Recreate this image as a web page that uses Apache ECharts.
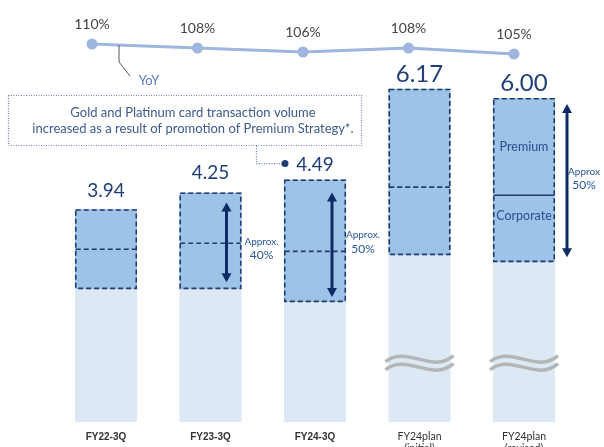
<!DOCTYPE html>
<html>
<head>
<meta charset="utf-8">
<script src="https://cdn.jsdelivr.net/npm/echarts@6/dist/echarts.min.js"></script>
<style>html,body{margin:0;padding:0;background:#fff;}#c{width:604px;height:447px;}</style>
</head>
<body>
<div id="c"></div>
<script>
const categories = ['FY22-3Q', 'FY23-3Q', 'FY24-3Q', 'FY24plan\n(initial)', 'FY24plan\n(revised)'];
const baseVals = [2.46, 2.46, 2.22, 3.09, 2.96];
const corporateVals = [0.74, 0.85, 0.94, 1.26, 1.24];
const premiumVals = [0.74, 0.94, 1.33, 1.82, 1.80];
const totals = [3.94, 4.25, 4.49, 6.17, 6.00];
const yoyVals = [110, 108, 106, 108, 105];
const calloutLines = ['Gold and Platinum card transaction volume', 'increased as a result of promotion of Premium Strategy*.'];
const approxNotes = [
  {idx: 1, top: 'Approx.', pct: '40%'},
  {idx: 2, top: 'Approx.', pct: '50%'},
  {idx: 4, top: 'Approx', pct: '50%'}
];

const FONT = 'Lato, "Noto Sans", sans-serif';
const NAVY = '#1f3f78';
const DARK = '#0d2b66';
const BORDER = '#1f3a6e';
const BAR_W = 62;
const chart = echarts.init(document.getElementById('c'), null, {renderer: 'canvas'});

const topLabelStyle = [
  {fontSize: 19, distance: 9},
  {fontSize: 19, distance: 10},
  {fontSize: 19, distance: 5},
  {fontSize: 24, distance: 3},
  {fontSize: 24, distance: 3}
];

chart.setOption({
  animation: false,
  backgroundColor: '#fff',
  grid: [
    {left: 53.75, width: 522.5, top: 44, bottom: 25, containLabel: false, outerBoundsMode: 'none'},
    {left: 39.25, width: 527.5, top: 34, height: 30, containLabel: false, outerBoundsMode: 'none'}
  ],
  xAxis: [
    {
      type: 'category', gridIndex: 0, data: categories,
      axisLine: {show: false}, axisTick: {show: false},
      axisLabel: {
        margin: 9, interval: 0,
        formatter: function (v, i) {
          if (i < 3) return '{b|' + v + '}';
          return v.split('\n').map(s => '{n|' + s + '}').join('\n');
        },
        rich: {
          b: {fontFamily: '"Liberation Sans", Arial, sans-serif', fontWeight: 'bold', fontSize: 10, color: '#333', lineHeight: 12},
          n: {fontFamily: FONT, fontSize: 10.5, color: '#333', lineHeight: 12}
        }
      }
    },
    {type: 'category', gridIndex: 1, data: categories, show: false}
  ],
  yAxis: [
    {type: 'value', gridIndex: 0, min: 0, max: 7, show: false, splitLine: {show: false}},
    {type: 'value', gridIndex: 1, min: 100, max: 115, show: false, splitLine: {show: false}}
  ],
  series: [
    {
      name: 'Base', type: 'bar', stack: 's', barWidth: BAR_W,
      data: baseVals, itemStyle: {color: '#dde8f5'}, silent: true
    },
    {
      name: 'Corporate', type: 'bar', stack: 's', barWidth: BAR_W,
      data: corporateVals.map((v, i) => ({
        value: v,
        label: {show: i === 4, position: 'inside', offset: [0, -13], formatter: 'Corporate', color: '#27508f', fontSize: 12.5, fontFamily: FONT}
      })),
      itemStyle: {color: '#9dc3e6'}, silent: true
    },
    {
      name: 'Premium', type: 'bar', stack: 's', barWidth: BAR_W,
      data: premiumVals.map((v, i) => ({
        value: v,
        label: {
          show: true, position: 'top', distance: topLabelStyle[i].distance,
          formatter: totals[i].toFixed(2), color: NAVY,
          fontSize: topLabelStyle[i].fontSize, fontFamily: FONT
        }
      })),
      itemStyle: {color: '#9dc3e6'}, silent: true
    },
    {
      name: 'YoY', type: 'line', xAxisIndex: 1, yAxisIndex: 1,
      data: yoyVals, symbol: 'circle', symbolSize: 11,
      lineStyle: {color: '#9fb6de', width: 3},
      itemStyle: {color: '#9fb6de'},
      label: {show: true, position: 'top', distance: 7, color: '#444', fontSize: 14, fontFamily: FONT, formatter: p => p.value + '%'}
    }
  ]
});

function px(i, v) { return chart.convertToPixel({xAxisIndex: 0, yAxisIndex: 0}, [i, v]); }

const g = [];
// dashed outlines of the premium+corporate box and divider
categories.forEach((c, i) => {
  const pt = px(i, totals[i]);
  const pb = px(i, baseVals[i]);
  const pm = px(i, baseVals[i] + corporateVals[i]);
  const x0 = pt[0] - BAR_W / 2 + 0.75;
  g.push({type: 'rect', shape: {x: x0, y: pt[1] + 0.75, width: BAR_W - 1.5, height: pb[1] - pt[1] - 1.5},
    style: {fill: null, stroke: BORDER, lineWidth: 1.6, lineDash: [5, 3]}});
  g.push({type: 'line', shape: {x1: x0, y1: pm[1], x2: x0 + BAR_W - 1.5, y2: pm[1]},
    style: {stroke: BORDER, lineWidth: 1.6, lineDash: i === 4 ? null : [5, 3]}});
});

// Premium text inside revised bar
(function () {
  const i = 4;
  const lo = baseVals[i] + corporateVals[i];
  const p = px(i, lo + premiumVals[i] * 0.5);
  g.push({type: 'text', x: p[0], y: p[1], style: {text: 'Premium', fill: '#27508f', font: '12.5px ' + FONT, align: 'center', verticalAlign: 'middle'}});
})();

// arrows
function arrow(x, yTop, yBot) {
  const h = 8, w = 5;
  g.push({type: 'line', shape: {x1: x, y1: yTop + h - 1, x2: x, y2: yBot - h + 1}, style: {stroke: DARK, lineWidth: 3}});
  g.push({type: 'polygon', shape: {points: [[x, yTop], [x - w, yTop + h + 1], [x + w, yTop + h + 1]]}, style: {fill: DARK}});
  g.push({type: 'polygon', shape: {points: [[x, yBot], [x - w, yBot - h - 1], [x + w, yBot - h - 1]]}, style: {fill: DARK}});
}
const arrowCfg = [
  {idx: 1, dx: 16, inTop: 10, inBot: 7},
  {idx: 2, dx: 17, inTop: 13, inBot: 5},
  {idx: 4, dx: 43, inTop: 6, inBot: 5}
];
arrowCfg.forEach(a => {
  const pt = px(a.idx, totals[a.idx]);
  const pb = px(a.idx, baseVals[a.idx]);
  arrow(pt[0] + a.dx, pt[1] + a.inTop, pb[1] - a.inBot);
});

// approx notes
const noteOffsets = {1: [51, 0.42], 2: [48, 0.49], 4: [60, 0.51]};
approxNotes.forEach(n => {
  const o = noteOffsets[n.idx];
  const v = baseVals[n.idx] + (totals[n.idx] - baseVals[n.idx]) * o[1];
  const p = px(n.idx, v);
  g.push({type: 'text', x: p[0] + o[0], y: p[1] - 7, style: {text: n.top, fill: '#2a5596', font: '10px ' + FONT, align: 'center', verticalAlign: 'middle'}});
  g.push({type: 'text', x: p[0] + o[0], y: p[1] + 7, style: {text: n.pct, fill: '#2a5596', font: '12px ' + FONT, align: 'center', verticalAlign: 'middle'}});
});

// wave break marks
[3, 4].forEach(i => {
  const c = px(i, 1.1);
  [-4, 4].forEach(dy => {
    const x0 = c[0] - 34, y0 = c[1] + dy;
    g.push({type: 'bezierCurve', shape: {x1: x0, y1: y0 + 3, cpx1: x0 + 22, cpy1: y0 - 14, cpx2: x0 + 46, cpy2: y0 + 16, x2: x0 + 68, y2: y0 - 3},
      style: {stroke: '#b5b5b5', lineWidth: 3.5, fill: null}});
  });
});

// YoY leader
g.push({type: 'polyline', shape: {points: [[119, 45], [119, 62], [130, 76]]}, style: {stroke: '#555', lineWidth: 1, fill: null}});
g.push({type: 'text', x: 149, y: 81, style: {text: 'YoY', fill: '#5b7cc0', font: '13px ' + FONT, align: 'center', verticalAlign: 'middle'}});

// callout box
g.push({type: 'rect', shape: {x: 8.5, y: 95.5, width: 353, height: 50}, style: {fill: null, stroke: '#6f84ad', lineWidth: 1.2, lineDash: [1, 1.5]}});
g.push({type: 'text', x: 193, y: 113, style: {text: calloutLines[0], fill: '#3d5a8c', font: '13px ' + FONT, align: 'center', verticalAlign: 'middle'}});
g.push({type: 'text', x: 193, y: 129, style: {text: calloutLines[1], fill: '#3d5a8c', font: '13px ' + FONT, align: 'center', verticalAlign: 'middle'}});
// connector to 4.49
(function () {
  const p = px(2, totals[2]);
  const cy = p[1] - 16;
  g.push({type: 'polyline', shape: {points: [[256.5, 146], [256.5, cy], [p[0] - 30, cy]]}, style: {stroke: '#6f84ad', lineWidth: 1.2, lineDash: [1, 1.5], fill: null}});
  g.push({type: 'circle', shape: {cx: p[0] - 30, cy: cy, r: 3.5}, style: {fill: NAVY}});
})();

g.forEach(el => { el.z = 100; });
chart.setOption({graphic: g});
</script>
</body>
</html>
